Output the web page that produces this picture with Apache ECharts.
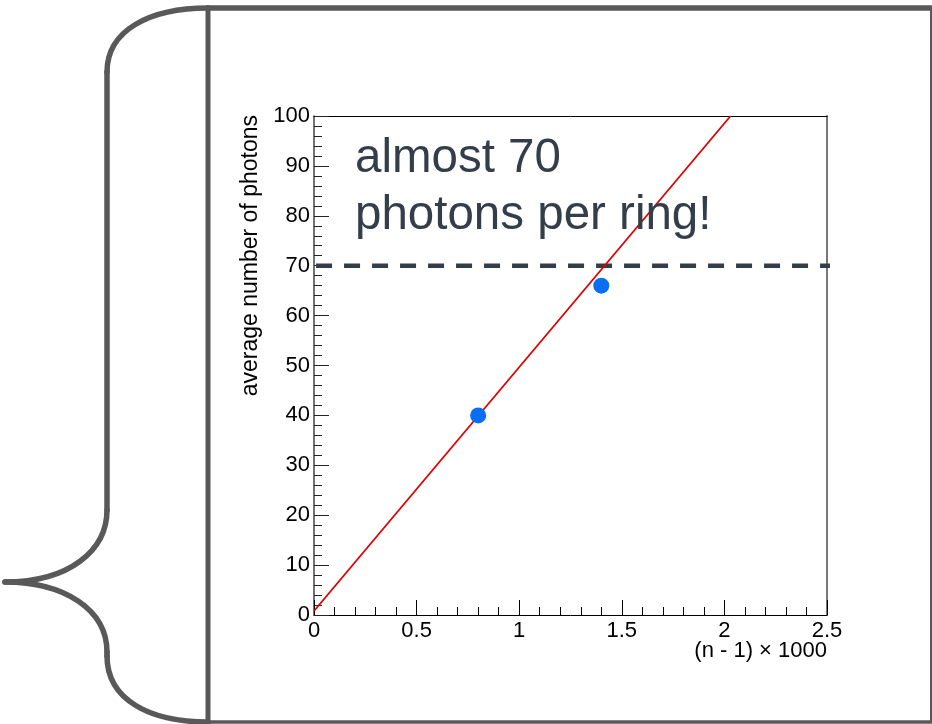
<!DOCTYPE html>
<html>
<head>
<meta charset="utf-8">
<script src="https://cdn.jsdelivr.net/npm/echarts@6/dist/echarts.min.js"></script>
<style>
html,body{margin:0;padding:0;background:#fff;}
#c{width:932px;height:724px;}
</style>
</head>
<body>
<div id="c"></div>
<script>
// measured points
const measX = [0.8, 1.4];
const measY = [40, 66];
// fitted line end points
const fitX = [0, 2.03];
const fitY = [0.8, 100];
// reference (dashed) level
const refX = [0.01, 2.534];
const refY = [70, 70];
// axis ranges
const xRange = [0, 2.5];
const yRange = [0, 100];
const xStep = 0.5;
const yStep = 10;
// texts
const xTitle = '(n - 1) \u00d7 1000';
const yTitle = 'average number of photons';
const noteLines = ['almost 70', 'photons per ring!'];

const FONT = '"Liberation Sans", Arial, Helvetica, sans-serif';
const FRAME = '#595959';

function zip(a, b) { return a.map((v, i) => [v, b[i]]); }

const chart = echarts.init(document.getElementById('c'), null, {renderer: 'canvas'});

const braceStyle = {fill: null, stroke: FRAME, lineWidth: 5.5, lineCap: 'round'};
function bez(x1, y1, c1x, c1y, c2x, c2y, x2, y2) {
  return {type: 'bezierCurve', shape: {x1: x1, y1: y1, cpx1: c1x, cpy1: c1y, cpx2: c2x, cpy2: c2y, x2: x2, y2: y2}, style: braceStyle};
}
function seg(x1, y1, x2, y2, color, w) {
  return {type: 'line', shape: {x1: x1, y1: y1, x2: x2, y2: y2}, style: {stroke: color, lineWidth: w, lineCap: 'round'}};
}

const option = {
  backgroundColor: '#fff',
  animation: false,
  grid: {left: 314, right: 105, top: 116, bottom: 109, containLabel: false},
  xAxis: [{
    type: 'value', min: xRange[0], max: xRange[1], interval: xStep,
    axisLine: {show: true, onZero: false, lineStyle: {color: '#000', width: 1}},
    axisTick: {show: true, inside: true, length: 15, lineStyle: {color: '#000', width: 1}},
    minorTick: {show: true, splitNumber: 5, length: 8, lineStyle: {color: '#000', width: 1}},
    splitLine: {show: false},
    axisLabel: {color: '#000', fontSize: 22, fontFamily: FONT, margin: 5, showMinLabel: true, showMaxLabel: true}
  }, {
    type: 'value', position: 'top', min: xRange[0], max: xRange[1],
    axisLine: {show: true, onZero: false, lineStyle: {color: '#000', width: 1}},
    axisTick: {show: false}, axisLabel: {show: false}, splitLine: {show: false}
  }],
  yAxis: [{
    type: 'value', min: yRange[0], max: yRange[1], interval: yStep,
    axisLine: {show: true, onZero: false, lineStyle: {color: '#444', width: 1.5}},
    axisTick: {show: true, inside: true, length: 15, lineStyle: {color: '#222', width: 1}},
    minorTick: {show: true, splitNumber: 5, length: 8, lineStyle: {color: '#222', width: 1}},
    splitLine: {show: false},
    axisLabel: {color: '#000', fontSize: 22, fontFamily: FONT, margin: 4, showMinLabel: true, showMaxLabel: true}
  }, {
    type: 'value', position: 'right', min: yRange[0], max: yRange[1],
    axisLine: {show: true, onZero: false, lineStyle: {color: '#777', width: 2}},
    axisTick: {show: false}, axisLabel: {show: false}, splitLine: {show: false}
  }],
  series: [{
    type: 'line', name: 'ref', data: zip(refX, refY), clip: false,
    symbol: 'none', silent: true, z: 3,
    lineStyle: {color: '#333e48', width: 4.5, type: [16, 12], cap: 'butt'}
  }, {
    type: 'line', name: 'fit', data: zip(fitX, fitY), clip: true,
    symbol: 'none', silent: true, z: 4,
    lineStyle: {color: '#dd0000', width: 1.8}
  }, {
    type: 'scatter', name: 'meas', data: zip(measX, measY),
    symbol: 'circle', symbolSize: 16, z: 5,
    itemStyle: {color: '#0a6ef5', opacity: 1}
  }],
  graphic: [
    // outer frame
    {type: 'line', shape: {x1: 206, y1: 8, x2: 932, y2: 8}, style: {stroke: FRAME, lineWidth: 5.5}},
    {type: 'line', shape: {x1: 208, y1: 8, x2: 208, y2: 722}, style: {stroke: FRAME, lineWidth: 5}},
    {type: 'line', shape: {x1: 206, y1: 722, x2: 932, y2: 722}, style: {stroke: FRAME, lineWidth: 3.5}},
    {type: 'line', shape: {x1: 931, y1: 8, x2: 931, y2: 722}, style: {stroke: FRAME, lineWidth: 2}},
    // curly brace
    bez(208, 8, 150, 8, 107, 30, 107, 72),
    seg(107, 72, 107, 510, FRAME, 5.5),
    bez(107, 510, 107, 550, 70, 582, 5, 582),
    bez(5, 582, 65, 582, 107, 610, 107, 652),
    seg(107, 652, 107, 656, FRAME, 5.5),
    bez(107, 656, 107, 700, 150, 722, 208, 722),
    // axis titles
    {type: 'text', x: 827, y: 651, style: {text: xTitle, font: '22px ' + FONT, fill: '#000', align: 'right', verticalAlign: 'middle'}},
    {type: 'text', x: 251, y: 115, rotation: Math.PI / 2, style: {text: yTitle, font: '23px ' + FONT, fill: '#000', align: 'right', verticalAlign: 'middle'}},
    // annotation
    {type: 'text', x: 355, y: 159, z: 10, style: {text: noteLines[0], font: '47.5px ' + FONT, fill: '#333e4a', align: 'left', verticalAlign: 'middle'}},
    {type: 'text', x: 355, y: 216, z: 10, style: {text: noteLines[1], font: '47.5px ' + FONT, fill: '#333e4a', align: 'left', verticalAlign: 'middle'}}
  ]
};

chart.setOption(option);
</script>
</body>
</html>
